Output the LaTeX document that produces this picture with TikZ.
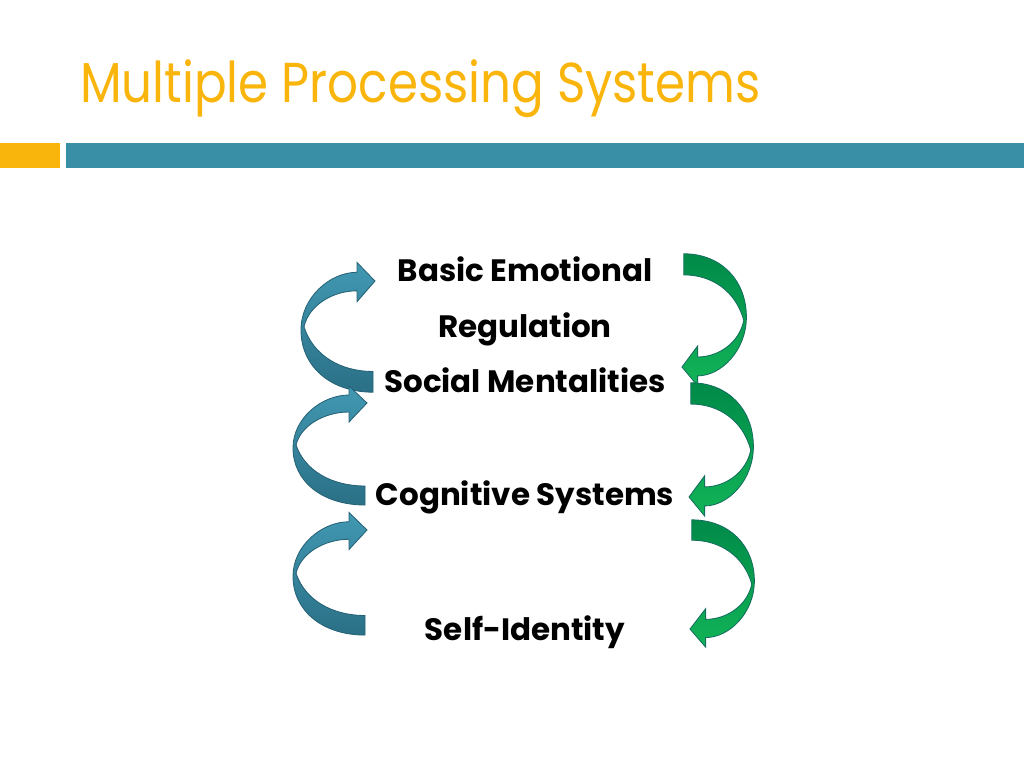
\documentclass[tikz,border=0pt]{standalone}
\usepackage{fontspec}
\setmainfont{Poppins}
\newfontfamily\titlefont[FakeStretch=0.86]{Poppins}
\definecolor{titleorange}{RGB}{250,181,12}
\definecolor{barteal}{RGB}{57,144,166}
\definecolor{loopblue}{RGB}{66,152,178}
\definecolor{loopbluedark}{RGB}{42,112,134}
\definecolor{loopedgeblue}{RGB}{38,98,118}
\definecolor{loopgreen}{RGB}{18,180,88}
\definecolor{loopgreendark}{RGB}{0,138,72}
\definecolor{loopedgegreen}{RGB}{20,110,95}

\begin{document}
\begin{tikzpicture}[x=0.025cm, y=-0.025cm,
    level/.style={font=\fontsize{22}{26}\selectfont\bfseries, anchor=base, inner sep=0pt},
    upbody/.style={draw=loopedgeblue, line width=0.6pt, top color=loopblue, bottom color=loopbluedark},
    downbody/.style={draw=loopedgegreen, line width=0.6pt, top color=loopgreendark, bottom color=loopgreen},
    loopup/.pic={
      \path[upbody] (-2,102) .. controls (-45,102) and (-74,78) .. (-74,45)
        .. controls (-74,15) and (-45,-8) .. (-18,-8) -- (-18,-17) -- (0,0)
        -- (-18,19) -- (-18,9) .. controls (-42,9) and (-66,22) .. (-71,42)
        .. controls (-62,68) and (-35,83) .. (-2,83) -- cycle;
    },
    loopdown/.pic={
      \path[downbody] (2,-102) .. controls (45,-102) and (74,-78) .. (74,-45)
        .. controls (74,-15) and (45,8) .. (18,8) -- (18,17) -- (0,0)
        -- (18,-19) -- (18,-9) .. controls (42,-9) and (66,-22) .. (71,-42)
        .. controls (62,-68) and (35,-83) .. (2,-83) -- cycle;
    }]

  \useasboundingbox (0,0) rectangle (1024,768);

  % title and rule
  \node[anchor=base west, inner sep=0pt, text=titleorange,
        font=\titlefont\fontsize{40}{44}\selectfont] (title) at (80,103) {Multiple Processing Systems};
  \fill[titleorange] (0,143) rectangle (60,168);
  \fill[barteal] (66,143) rectangle (1024,168);

  % levels
  \node[level] (basic)  at (525,281) {Basic Emotional};
  \node[level] (reg)    at (525,337) {Regulation};
  \node[level] (social) at (525,392) {Social Mentalities};
  \node[level] (cog)    at (525,505) {Cognitive Systems};
  \node[level] (self)   at (525,640) {Self-Identity};

  % loops going up
  \pic[yscale=1.09] (up1) at (375,281) {loopup};
  \pic (up2) at (367,403) {loopup};
  \pic[yscale=1.03] (up3) at (367,530) {loopup};

  % loops going down
  \pic[xscale=0.87, yscale=1.11] (down1) at (682,367) {loopdown};
  \pic[xscale=0.87, yscale=1.12] (down2) at (689,497) {loopdown};
  \pic[xscale=0.87, yscale=1.07] (down3) at (690,629) {loopdown};
\end{tikzpicture}
\end{document}
